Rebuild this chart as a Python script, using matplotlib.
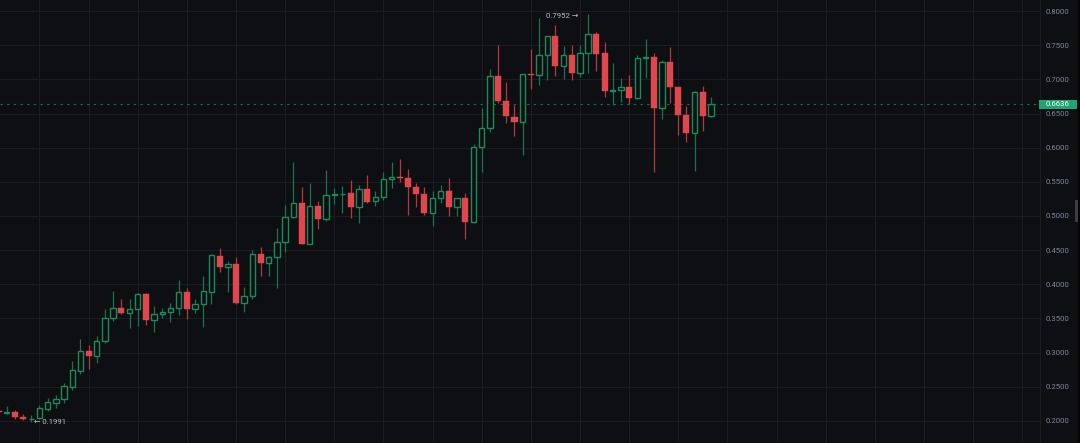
import matplotlib
matplotlib.use("Agg")
import matplotlib.pyplot as plt
from matplotlib.patches import Rectangle
import numpy as np

plt.rcParams['font.family'] = ['Roboto', 'DejaVu Sans']

# daily candles (leftmost one is cut by the frame)
opens = [0.2150, 0.2122, 0.2136, 0.2063, 0.2024, 0.2039, 0.2180, 0.2268, 0.2318, 0.2502,
         0.2736, 0.3024, 0.2956, 0.3171, 0.3512, 0.3658, 0.3576, 0.3635, 0.3854, 0.3474,
         0.3561, 0.3600, 0.3649, 0.3892, 0.3635, 0.3708, 0.3892, 0.4419, 0.4258, 0.4293,
         0.3731, 0.3834, 0.4449, 0.4317, 0.4405, 0.4615, 0.4990, 0.5186, 0.4590, 0.5151,
         0.4956, 0.5307, 0.5317, 0.5332, 0.5127, 0.5391, 0.5224, 0.5274, 0.5537, 0.5576,
         0.5556, 0.5420, 0.5317, 0.5040, 0.5259, 0.5370, 0.5127, 0.5260, 0.4908, 0.6014,
         0.6283, 0.7049, 0.6683, 0.6454, 0.6376, 0.7074, 0.7064, 0.7352, 0.7634, 0.7195,
         0.7352, 0.7088, 0.7381, 0.7659, 0.7381, 0.6830, 0.6840, 0.6893, 0.6722, 0.7317,
         0.7322, 0.6576, 0.7259, 0.6893, 0.6478, 0.6210, 0.6810, 0.6464]
highs = [0.2165, 0.2224, 0.2160, 0.2102, 0.2088, 0.2234, 0.2332, 0.2380, 0.2552, 0.2878,
         0.3196, 0.3108, 0.3244, 0.3639, 0.3903, 0.3785, 0.3785, 0.3869, 0.3878, 0.3683,
         0.3649, 0.3730, 0.4068, 0.3946, 0.3780, 0.4118, 0.4440, 0.4536, 0.4342, 0.4396,
         0.3966, 0.4503, 0.4542, 0.4410, 0.4820, 0.5161, 0.5786, 0.5420, 0.5479, 0.5220,
         0.5673, 0.5414, 0.5439, 0.5527, 0.5454, 0.5600, 0.5371, 0.5640, 0.5786, 0.5834,
         0.5683, 0.5479, 0.5429, 0.5366, 0.5454, 0.5551, 0.5265, 0.5341, 0.6054, 0.6576,
         0.7152, 0.7503, 0.6966, 0.6625, 0.7080, 0.7444, 0.7893, 0.7640, 0.7795, 0.7488,
         0.7498, 0.7498, 0.7952, 0.7698, 0.7551, 0.7235, 0.7015, 0.7064, 0.7356, 0.7586,
         0.7390, 0.7283, 0.7478, 0.6893, 0.6610, 0.6830, 0.6903, 0.6737]
lows = [0.2110, 0.2100, 0.2025, 0.2019, 0.1991, 0.2025, 0.2151, 0.2186, 0.2259, 0.2454,
        0.2688, 0.2761, 0.2853, 0.3137, 0.3468, 0.3561, 0.3365, 0.3390, 0.3405, 0.3298,
        0.3503, 0.3453, 0.3551, 0.3488, 0.3585, 0.3380, 0.3712, 0.4176, 0.3892, 0.3712,
        0.3600, 0.3785, 0.4122, 0.4122, 0.3951, 0.4478, 0.4966, 0.4585, 0.4585, 0.4810,
        0.4932, 0.5171, 0.5049, 0.4975, 0.4893, 0.5195, 0.5146, 0.5234, 0.5405, 0.5502,
        0.5015, 0.5137, 0.5015, 0.4858, 0.5186, 0.5005, 0.5005, 0.4659, 0.4900, 0.5649,
        0.6225, 0.6658, 0.6366, 0.6175, 0.5893, 0.6859, 0.6917, 0.6990, 0.7054, 0.7000,
        0.6985, 0.7039, 0.7088, 0.7127, 0.6746, 0.6625, 0.6673, 0.6639, 0.6708, 0.7015,
        0.5649, 0.6415, 0.6658, 0.6186, 0.6088, 0.5663, 0.6249, 0.6454]
closes = [0.2127, 0.2130, 0.2054, 0.2029, 0.2036, 0.2186, 0.2273, 0.2322, 0.2512, 0.2746,
          0.3024, 0.2951, 0.3175, 0.3512, 0.3658, 0.3576, 0.3635, 0.3854, 0.3474, 0.3561,
          0.3600, 0.3649, 0.3892, 0.3635, 0.3708, 0.3907, 0.4429, 0.4258, 0.4293, 0.3731,
          0.3834, 0.4449, 0.4317, 0.4405, 0.4615, 0.4990, 0.5186, 0.4590, 0.5151, 0.4956,
          0.5307, 0.5317, 0.5327, 0.5127, 0.5391, 0.5210, 0.5274, 0.5537, 0.5576, 0.5561,
          0.5420, 0.5317, 0.5040, 0.5259, 0.5370, 0.5127, 0.5260, 0.4908, 0.6014, 0.6283,
          0.7049, 0.6683, 0.6464, 0.6376, 0.7074, 0.7064, 0.7352, 0.7634, 0.7195, 0.7352,
          0.7088, 0.7381, 0.7659, 0.7366, 0.6830, 0.6845, 0.6893, 0.6722, 0.7317, 0.7322,
          0.6576, 0.7259, 0.6883, 0.6478, 0.6210, 0.6810, 0.6464, 0.6636]
price_ticks = [0.20, 0.25, 0.30, 0.35, 0.40, 0.45, 0.50, 0.55, 0.60, 0.65, 0.70, 0.75, 0.80]
last_price = 0.6636

bg = '#0e0f12'
grid_c = '#1b1d22'
up_c = '#1b8a5c'
up_wick = '#17744e'
dn_c = '#e0464c'
dn_wick = '#b23a3f'
label_c = '#7d869c'

W, H = 1080, 443
fig = plt.figure(figsize=(W / 100, H / 100), dpi=100, facecolor=bg)
ax = fig.add_axes([0, 0, 1040 / W, 1], facecolor=bg)

o = np.array(opens)
h = np.array(highs)
l = np.array(lows)
c = np.array(closes)
x = np.arange(len(o))
up = c >= o

# wicks first, bodies on top (green bodies are hollow)
ax.vlines(x[up], l[up], h[up], color=up_wick, lw=0.9, zorder=2)
ax.vlines(x[~up], l[~up], h[~up], color=dn_wick, lw=0.9, zorder=2)

body_lo = np.minimum(o, c)
body_h = np.maximum(np.abs(c - o), 0.0008)
ax.bar(x[up], body_h[up], bottom=body_lo[up], width=0.66, facecolor=bg,
       edgecolor=up_c, linewidth=1.0, zorder=3)
ax.bar(x[~up], body_h[~up], bottom=body_lo[~up], width=0.74, facecolor=dn_c,
       edgecolor=dn_c, linewidth=0.3, zorder=3)

# last price line
ax.axhline(last_price, color='#1c6e4c', lw=0.8, dashes=(2.1, 3.9), zorder=1)

ax.set_xlim(0.183, 0.183 + 1040 / 8.19)
ax.set_ylim(0.1678, 0.8161)

ax.set_yticks(price_ticks)
ax.set_yticklabels([f"{p:.4f}" for p in price_ticks])
ax.yaxis.tick_right()
ax.tick_params(axis='y', length=0, pad=4.3, labelsize=5.6, labelcolor=label_c)
ax.set_xticks(np.arange(5, 128, 6))
ax.tick_params(axis='x', length=0, labelbottom=False)
ax.grid(True, color=grid_c, lw=0.8)
ax.set_axisbelow(True)
for side in ['top', 'left', 'bottom']:
    ax.spines[side].set_visible(False)
ax.spines['right'].set_color(grid_c)
ax.spines['right'].set_linewidth(0.8)

# high / low markers
imax = int(np.argmax(h))
imin = int(np.argmin(l))
ax.annotate(f"{h[imax]:.4f} \u2192", (imax, h[imax]), xytext=(-7, -1),
            textcoords='offset points', ha='right', va='center',
            fontsize=5.6, color='#b9bdc7')
ax.annotate(f"\u2190 {l[imin]:.4f}", (imin, l[imin]), xytext=(2, -0.5),
            textcoords='offset points', ha='left', va='center',
            fontsize=5.6, color='#b9bdc7')

# current price tag on the axis
tag_y = ax.transData.transform((0, last_price))[1] / H
fig.patches.append(Rectangle((1039 / W, tag_y - 4.6 / H), 37.5 / W, 9.2 / H,
                             transform=fig.transFigure, fc='#1fa474', ec='none'))
fig.text(1057.5 / W, tag_y, f"{last_price:.4f}", ha='center', va='center',
         fontsize=5.6, color='white')

# little scroll handle on the right edge
fig.patches.append(Rectangle((1074.7 / W, 1 - 222 / H), 3.5 / W, 22 / H,
                             transform=fig.transFigure, fc='#3a3c43', ec='none'))
fig.patches.append(Rectangle((1078 / W, 0), 2 / W, 1,
                             transform=fig.transFigure, fc='#050506', ec='none'))

fig.savefig("out.png", dpi=100, facecolor=bg)
